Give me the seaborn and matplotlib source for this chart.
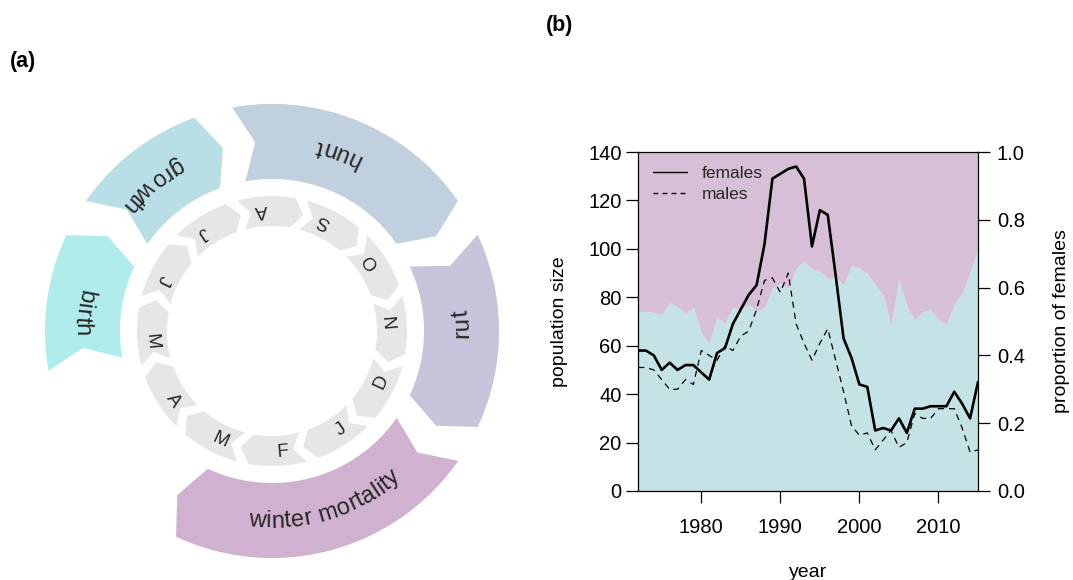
import numpy as np
import pandas as pd
import matplotlib
matplotlib.use("Agg")
import matplotlib.pyplot as plt
import seaborn as sns
from matplotlib.patches import Polygon
from matplotlib.lines import Line2D
from matplotlib.font_manager import FontProperties
from matplotlib.textpath import TextToPath

# ---------------- data ----------------
years = list(range(1972, 2016))
females = [58, 58, 56, 50, 53, 50, 52, 52, 49, 46, 57, 59, 69, 75, 81, 85,
           102, 129, 131, 133, 134, 129, 101, 116, 114, 89, 63, 55, 44, 43,
           25, 26, 25, 30, 24, 34, 34, 35, 35, 35, 41, 36, 30, 45]
males = [51, 51, 50, 46, 42, 42, 46, 44, 58, 56, 54, 60, 58, 64, 66, 75,
         87, 88, 82, 90, 69, 61, 54, 61, 67, 54, 41, 27, 23, 24,
         17, 21, 25, 18, 20, 32, 30, 30, 34, 34, 34, 26, 16, 17]
prop_females = [0.529, 0.529, 0.527, 0.520, 0.556, 0.544, 0.525, 0.541, 0.466, 0.436,
                0.512, 0.495, 0.542, 0.536, 0.551, 0.531, 0.541, 0.598, 0.613, 0.598,
                0.657, 0.678, 0.655, 0.649, 0.627, 0.629, 0.608, 0.665, 0.657, 0.642,
                0.608, 0.578, 0.490, 0.625, 0.544, 0.505, 0.529, 0.534, 0.505, 0.492,
                0.549, 0.583, 0.647, 0.711]

month_labels = ["J", "F", "M", "A", "M", "J", "J", "A", "S", "O", "N", "D"]

# life-cycle phases, in months counted from 1 January
phase_names = ["birth", "growth", "hunt", "rut", "winter mortality"]
phase_start = [4.33, 5.83, 7.33, 9.83, 11.83]
phase_end = [5.50, 7.00, 9.50, 11.50, 14.50]
phase_colors = ["#B0ECEC", "#B9DEE5", "#C0D0DF", "#C8C2DA", "#D0B2D0"]

MONTH_COLOR = "#E6E6E6"
TEAL = "#C5E3E7"
PINK = "#D8BFD8"
TEXT_GREY = "#262626"

# ---------------- style ----------------
sns.set_theme(style="white")
plt.rcParams["font.family"] = ["Liberation Sans", "DejaVu Sans"]

DPI = 100
fig = plt.figure(figsize=(10.73, 5.80), dpi=DPI)

# ---------------- (a) seasonal wheel ----------------
CX, CY = 272.0, 331.0
axw = fig.add_axes([0, 0, 540 / 1073, 1])
axw.set_xlim(0, 540)
axw.set_ylim(580, 0)
axw.axis("off")


def theta(t):
    """Angle (radians) of a time t in months; the year runs clockwise."""
    return np.deg2rad(-40.0 - 30.0 * t)


def to_xy(r, a):
    return CX + r * np.cos(a), CY - r * np.sin(a)


def chevron(t0, t1, r0, r1, depth, color):
    rm = (r0 + r1) / 2
    pts = [to_xy(r1, a) for a in np.linspace(theta(t0), theta(t1), 80)]
    pts.append(to_xy(rm, theta(t1 + depth)))
    pts += [to_xy(r0, a) for a in np.linspace(theta(t1), theta(t0), 80)]
    pts.append(to_xy(rm, theta(t0 + depth)))
    axw.add_patch(Polygon(pts, closed=True, facecolor=color, edgecolor="none"))


ttp = TextToPath()


def ink_width(s, prop):
    w, _, _ = ttp.get_text_width_height_descent(s, prop, ismath=False)
    return w * DPI / 72.0


def arc_text(s, tc, r_mid, size, color):
    """Write s along the ring, letters leaning toward the centre."""
    prop = FontProperties(family="Liberation Sans", size=size)
    total = ink_width(s, prop)
    a_c = theta(tc)
    r_base = r_mid + 0.36 * size * DPI / 72.0
    for i, ch in enumerate(s):
        if ch == " ":
            continue
        pos = ink_width(s[: i + 1], prop) - ink_width(ch, prop) / 2
        a = a_c + (pos - total / 2) / r_mid
        x, y = to_xy(r_base, a)
        axw.text(x, y, ch, rotation=np.degrees(a) + 90, rotation_mode="anchor",
                 ha="center", va="baseline", fontproperties=prop, color=color)


# month ring
for m, lab in enumerate(month_labels):
    chevron(m + 1 / 6, m + 1.0, 105, 135, 1 / 6, MONTH_COLOR)
    a = theta(m + 0.5)
    x, y = to_xy(121, a)
    axw.text(x, y, lab, rotation=np.degrees(a) + 90, rotation_mode="anchor",
             ha="center", va="center", fontsize=13.5, color=TEXT_GREY)

# life-cycle ring
for name, t0, t1, col in zip(phase_names, phase_start, phase_end, phase_colors):
    chevron(t0, t1, 152, 227, 1 / 6, col)
    arc_text(name, (t0 + t1) / 2 - 0.067, 188, 17, TEXT_GREY)

fig.text(23 / 1073, 1 - 62 / 580, "(a)", fontweight="bold", fontsize=15.5,
         ha="center", va="center", color="black")

# ---------------- (b) population time series ----------------
axc = fig.add_axes([638 / 1073, 1 - 491 / 580, 340 / 1073, 339 / 580])
ax2 = axc.twinx()

ax2.fill_between(years, 0, prop_females, color=TEAL, lw=0)
ax2.fill_between(years, prop_females, 1, color=PINK, lw=0)
ax2.set_ylim(0, 1)
axc.set_zorder(ax2.get_zorder() + 1)
axc.patch.set_visible(False)

sns.lineplot(x=years, y=females, color="black", lw=1.9, ax=axc)
sns.lineplot(x=years, y=males, color="black", lw=0.9, linestyle=(0, (5, 4)), ax=axc)

axc.set_xlim(1972, 2015)
axc.set_ylim(0, 140)
axc.set_xticks([1980, 1990, 2000, 2010])
axc.set_yticks(range(0, 141, 20))
ax2.set_yticks([0, 0.2, 0.4, 0.6, 0.8, 1.0])
ax2.set_yticklabels(["0.0", "0.2", "0.4", "0.6", "0.8", "1.0"])

axc.tick_params(axis="both", which="both", direction="out", length=8.6, width=0.9,
                color="black", labelcolor="black", labelsize=14.5,
                bottom=True, left=True, top=False, right=False)
axc.tick_params(axis="x", pad=11)
axc.tick_params(axis="y", pad=3.2)
ax2.tick_params(axis="y", direction="out", length=8.6, width=0.9, color="black",
                labelcolor="black", labelsize=14.5, right=True, left=False, pad=5)

for sp in axc.spines.values():
    sp.set_visible(True)
    sp.set_color("black")
    sp.set_linewidth(0.9)
for sp in ax2.spines.values():
    sp.set_visible(False)

axc.set_xlabel("year", fontsize=14, color="black")
axc.xaxis.set_label_coords(0.5, -0.239)
axc.xaxis.label.set_va("center")
axc.set_ylabel("population size", fontsize=14, color="black")
axc.yaxis.set_label_coords(-0.232, 0.5)
axc.yaxis.label.set_va("center")
ax2.set_ylabel("proportion of females", fontsize=14, color="black")
ax2.yaxis.set_label_coords(1.245, 0.5)
ax2.yaxis.label.set_va("center")

handles = [Line2D([], [], color="black", lw=1.0),
           Line2D([], [], color="black", lw=1.0, linestyle=(0, (3.5, 3)))]
axc.legend(handles, ["females", "males"], loc="upper left",
           bbox_to_anchor=(0.044, 0.958), frameon=False, fontsize=12.5,
           handlelength=1.95, handletextpad=0.85, labelspacing=0.32,
           borderpad=0, borderaxespad=0)

fig.text(560 / 1073, 1 - 26 / 580, "(b)", fontweight="bold", fontsize=15.5,
         ha="center", va="center", color="black")

fig.savefig("out.png", dpi=DPI)
